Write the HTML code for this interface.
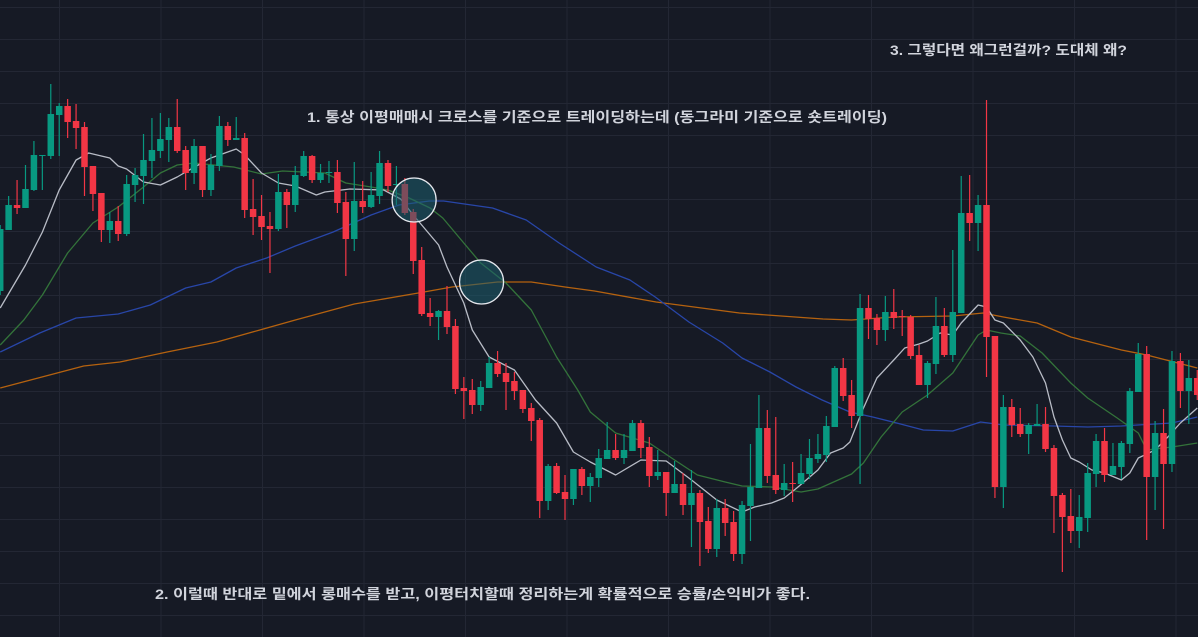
<!DOCTYPE html>
<html><head><meta charset="utf-8"><style>
html,body{margin:0;padding:0;background:#161a25;width:1198px;height:637px;overflow:hidden}
svg{display:block}
text{font-family:"Liberation Sans","Noto Sans CJK KR","NanumGothic",sans-serif;font-weight:bold;fill:#d1d4dc;font-size:14px}
</style></head><body>
<svg id="chart" width="1198" height="637" viewBox="0 0 1198 637" xmlns="http://www.w3.org/2000/svg">
<rect x="0" y="0" width="1198" height="637" fill="#161a25"/>
<g id="grid"></g>
<g id="mas"></g>
<g id="candles"></g>
<g id="marks"></g>
<text x="307" y="122" textLength="580" lengthAdjust="spacingAndGlyphs">1. 통상 이평매매시 크로스를 기준으로 트레이딩하는데 (동그라미 기준으로 숏트레이딩)</text>
<text x="155" y="599" textLength="655" lengthAdjust="spacingAndGlyphs">2. 이럴때 반대로 밑에서 롱매수를 받고, 이평터치할때 정리하는게 확률적으로 승률/손익비가 좋다.</text>
<text x="890" y="55" textLength="237" lengthAdjust="spacingAndGlyphs">3. 그렇다면 왜그런걸까? 도대체 왜?</text>
</svg>
<script>
const opens=[409,470,495,492,510,544,544,585,594,579,573,534,507,470,479,466,515,524,539,549,560,573,550,527,554,510,534,574,560,562,491,484,474,471,508,495,524,544,520,527,528,498,461,499,493,504,537,515,516,488,440,387,383,389,374,312,310,295,312,337,327,319,310,292,280,199,234,208,201,231,214,222,241,250,242,249,277,253,224,228,207,216,195,207,179,151,192,178,146,194,212,272,225,210,217,216,226,241,245,273,332,305,284,392,382,370,388,384,383,345,315,336,374,345,387,487,477,495,364,213,293,276,266,274,276,252,205,184,169,182,226,259,225,233,256,308,346,223,267,236,339,309,322];
const highs=[475,504,520,535,559,545,616,597,601,596,578,534,507,488,494,525,532,566,582,587,582,601,554,561,554,546,584,578,583,567,521,505,488,526,511,534,549,545,536,539,540,508,538,519,528,549,540,534,522,491,453,402,390,414,381,323,321,319,343,349,337,328,310,297,282,236,237,225,231,233,227,251,278,266,266,280,280,263,250,228,239,227,230,210,193,201,201,189,199,256,305,290,283,236,238,246,261,266,284,334,342,320,406,405,386,404,411,390,385,355,339,403,392,450,524,525,505,600,364,305,301,292,277,296,293,255,207,211,205,237,266,272,257,259,312,357,354,279,291,349,347,340,330];
const lows=[405,470,486,492,509,510,541,544,562,551,504,489,458,457,459,464,498,496,522,542,538,547,510,516,503,504,529,554,560,482,465,460,427,469,472,488,523,517,517,517,487,424,449,487,492,496,508,495,485,426,384,374,360,366,306,281,286,289,312,323,290,300,287,259,182,190,206,180,195,205,198,213,241,240,236,249,242,213,220,184,207,185,153,134,147,143,164,139,136,159,212,217,206,204,198,216,221,237,238,273,299,272,216,361,355,359,371,364,341,315,302,326,343,338,387,459,449,323,202,192,263,263,246,274,248,167,128,157,152,168,213,218,225,221,247,308,160,190,171,228,292,276,300];
const closes=[471,495,492,511,545,545,586,594,578,572,533,506,470,479,466,516,525,540,550,561,573,549,527,554,510,535,574,560,562,490,483,473,471,508,495,525,544,520,527,528,497,461,499,493,505,537,514,516,487,439,386,383,389,373,311,309,295,313,337,326,318,309,291,279,199,234,207,201,231,214,223,242,250,242,250,277,252,224,228,207,216,195,207,178,151,192,177,146,195,213,272,224,210,217,216,227,242,246,274,332,304,284,392,381,370,388,382,383,344,315,337,374,345,388,487,477,495,363,213,293,275,266,275,276,251,204,183,169,183,227,259,225,234,257,309,346,223,267,236,339,309,322,305];

const maWhiteIdx=[0,3,5,7,9,10.5,13,14,15,17,19,21,22,25,28,29,31,33,35,37.5,38.5,41.5,45.5,47.5,49,52,53,55,56,58,61,63.5,66,68,70,73,76,79,82,85,88,89.5,91.5,93,94.5,97,98.5,100,100.8,102.3,104,106,107.3,109,110,111.5,113,114,116,117,118,119,121,122.5,124,125,126,127,128,129.5,131,133,134,135,137,138.5,140,142];
const maWhiteVal=[392,435,468,510,540,547,542,534,531,518,515,523,528,542,551,545,527,517,514,505,508,511,510,501,485,455,433,397,370,343,330,300,277,248,238,225,240,239,220,200,188,193,197,202,212,230,247,252,258,290,322,340,352,356,359,367,365,377,395,393,380,377,360,343,317,283,260,242,238,230,227,220,227,242,250,263,277,292];
const maGreenIdx=[0,2.8,5,8,11,14,17,19,21,23,27.7,31,33.5,38.5,41,44,46,48.5,51,52.5,55,57,60,63,66,68.5,70,73,77,80,82.7,86,88,91.5,95,97,101,102.4,104.5,107,110,113,116,117,118.7,121,123.6,127,129,132.5,135,136,139,142];
const maGreenVal=[355,380,405,447,477,493,513,527,535,537,533,526,529,527,517,513,510,502,492,482,457,437,417,390,343,310,288,267,257,240,225,218,214,213,208,211,226,237,263,288,305,327,365,370,367,364,347,317,302,282,267,250,253,257];
const maBlueIdx=[0,4.7,9,14,17.8,22,25,28,31.6,35,39.5,44,47.3,50.9,52.6,58.4,62.4,66.3,70.7,74.7,77.7,81.7,85.7,88,91.3,94.4,97.5,100.8,103.5,106.8,109.5,113,116.3,119,125,129,133,139,142];
const maBlueVal=[348,367,382,386,395,412,418,432,442,454,468,485,495,499,499,492,480,457,433,420,403,378,357,342,328,313,300,288,283,276,270,269,278,275,274,273,274,277,283];
const maOrangeIdx=[0,9.9,14.2,19.8,25.7,30.8,35,42,49.6,53.6,59,63,67,70.5,77.8,87.7,97.6,101,106,113,116.6,119,123,127,133,136,142];
const maOrangeVal=[312,334,338,348,358,370,380,396,407,413,418,418,413,409,398,387,381,380,383,384,387,383,377,363,350,345,332];

const crossIdx=[49.1,57.1];
const crossVal=[500,418];

const NS='http://www.w3.org/2000/svg';
const STEP=8.43, X0=0.2, BODY=6.5;
function xScale(i){return X0+i*STEP;}
function yScale(p){return 700-p;}
function mk(tag,attrs,parent){const e=document.createElementNS(NS,tag);for(const k in attrs)e.setAttribute(k,attrs[k]);parent.appendChild(e);return e;}

const grid=document.getElementById('grid');
for(let y=7;y<637;y+=32){const l=mk('line',{x1:0,x2:1198,y1:y+0.5,y2:y+0.5,stroke:'#232734','stroke-width':1},grid);

}
for(let x=59.5;x<1198;x+=101.5){const l=mk('line',{x1:x,x2:x,y1:0,y2:637,stroke:'#232734','stroke-width':1},grid);

}

const mas=document.getElementById('mas');
function drawMA(idx,val,color,name){
  let d='';
  for(let k=0;k<idx.length;k++){d+=(k?'L':'M')+xScale(idx[k]).toFixed(1)+' '+yScale(val[k]).toFixed(1);}
  const p=mk('path',{d:d,fill:'none',stroke:color,'stroke-width':1.3,'stroke-linejoin':'round'},mas);
  
  
}
drawMA(maOrangeIdx,maOrangeVal,'#b5620f','ma-orange-line');
drawMA(maBlueIdx,maBlueVal,'#2846a8','ma-blue-line');
drawMA(maGreenIdx,maGreenVal,'#33733a','ma-green-line');
drawMA(maWhiteIdx,maWhiteVal,'#b8bcc6','ma-white-line');

const cg=document.getElementById('candles');
for(let i=0;i<opens.length;i++){
  const up=closes[i]>=opens[i];
  const col=up?'#089981':'#f23645';
  const x=xScale(i);
  const w=mk('line',{x1:x,x2:x,y1:yScale(highs[i]),y2:yScale(lows[i]),stroke:col,'stroke-width':1.2},cg);
  
  
  const top=yScale(Math.max(opens[i],closes[i])), bot=yScale(Math.min(opens[i],closes[i]));
  const b=mk('rect',{x:x-BODY/2,y:top,width:BODY,height:Math.max(1,bot-top),fill:col},cg);
  
  
}

const mg=document.getElementById('marks');
for(let k=0;k<crossIdx.length;k++){
  const c=mk('circle',{cx:xScale(crossIdx[k]),cy:yScale(crossVal[k]),r:22,fill:'rgba(30,95,110,0.55)',stroke:'#e6e8ee','stroke-width':1.3},mg);
  
  
}
</script>
</body></html>
